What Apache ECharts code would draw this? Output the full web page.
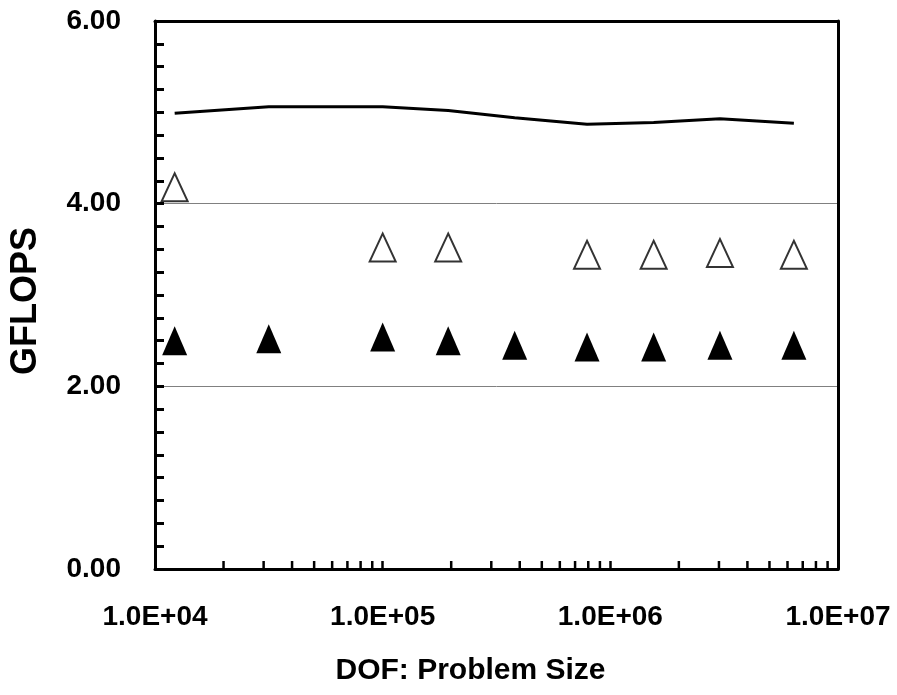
<!DOCTYPE html>
<html>
<head>
<meta charset="utf-8">
<script src="https://cdn.jsdelivr.net/npm/echarts@6/dist/echarts.min.js"></script>
<style>
  html, body { margin: 0; padding: 0; background: #fff; }
  #chart { width: 897px; height: 695px; }
</style>
</head>
<body>
<div id="chart"></div>
<script>
// problem sizes (DOF) and measured rates
const dofLine = [12200, 31600, 100000, 194000, 380000, 790000, 1550000, 3030000, 6400000];
const gflopsLine = [4.99, 5.06, 5.06, 5.02, 4.94, 4.87, 4.89, 4.93, 4.88];
const dofFilled = [12200, 31600, 100000, 194000, 380000, 790000, 1550000, 3030000, 6400000];
const gflopsFilled = [2.50, 2.52, 2.54, 2.50, 2.45, 2.43, 2.43, 2.45, 2.45];
const dofOpen = [12200, 100000, 194000, 790000, 1550000, 3030000, 6400000];
const gflopsOpen = [4.18, 3.52, 3.52, 3.44, 3.44, 3.46, 3.44];

// axis ticks
const xDecades = [1e4, 1e5, 1e6, 1e7];
const xTickLabels = ['1.0E+04', '1.0E+05', '1.0E+06', '1.0E+07'];
const xMinorSteps = [2, 3, 4, 5, 6, 7, 8, 9];
const yTickLabels = ['0.00', '2.00', '4.00', '6.00'];

const FONT = "'Liberation Sans', Arial, sans-serif";

// minor tick positions of the log axis: 2..9 in each decade
let xMinorTicks = [];
xDecades.slice(0, -1).forEach(d => {
    xMinorSteps.forEach(m => xMinorTicks.push([d * m, 0]));
});

const zip = (xs, ys) => xs.map((x, i) => [x, ys[i]]);

const chart = echarts.init(document.getElementById('chart'), null, { renderer: 'canvas' });

const option = {
    animation: false,
    backgroundColor: '#fff',
    grid: { left: 154, right: 59, top: 21, bottom: 126, containLabel: false },
    xAxis: [{
        type: 'log',
        logBase: 10,
        min: 1e4,
        max: 1e7,
        z: 10,
        axisLine: { lineStyle: { color: '#000', width: 3 } },
        axisTick: { inside: true, length: 8, lineStyle: { color: '#000', width: 2.5 } },
        axisLabel: {
            margin: 34,
            color: '#000',
            fontFamily: FONT,
            fontWeight: 'bold',
            fontSize: 28,
            formatter: v => {
                const i = xDecades.findIndex(d => Math.abs(d - v) / d < 1e-6);
                return i >= 0 ? xTickLabels[i] : '';
            }
        },
        splitLine: { show: false },
        name: 'DOF: Problem Size',
        nameLocation: 'middle',
        nameGap: 87,
        nameTextStyle: {
            color: '#000', fontFamily: FONT, fontWeight: 'bold', fontSize: 30,
            padding: [0, 52, 0, 0]
        }
    }, {
        type: 'value',
        position: 'top',
        z: 10,
        axisLine: { onZero: false, lineStyle: { color: '#000', width: 3 } },
        axisTick: { show: false },
        axisLabel: { show: false },
        splitLine: { show: false }
    }],
    yAxis: [{
        type: 'value',
        min: 0,
        max: 6,
        interval: 2,
        z: 5,
        axisLine: { lineStyle: { color: '#000', width: 3 } },
        axisTick: { inside: true, length: 9, lineStyle: { color: '#000', width: 3 } },
        minorTick: { show: true, splitNumber: 8, length: 9, lineStyle: { color: '#000', width: 3 } },
        axisLabel: {
            margin: 34,
            color: '#000',
            fontFamily: FONT,
            fontWeight: 'bold',
            fontSize: 28,
            formatter: v => yTickLabels[Math.round(v / 2)]
        },
        splitLine: { show: true, lineStyle: { color: '#808080', width: 1 } },
        name: 'GFLOPS',
        nameLocation: 'middle',
        nameGap: 111,
        nameTextStyle: {
            color: '#000', fontFamily: FONT, fontWeight: 'bold', fontSize: 36,
            padding: [0, 12, 0, 0]
        }
    }, {
        type: 'value',
        position: 'right',
        min: 0,
        max: 6,
        z: 10,
        axisLine: { show: true, onZero: false, lineStyle: { color: '#000', width: 3 } },
        axisTick: { show: false },
        axisLabel: { show: false },
        splitLine: { show: false }
    }],
    series: [{
        name: 'line',
        type: 'line',
        data: zip(dofLine, gflopsLine),
        showSymbol: false,
        symbol: 'none',
        lineStyle: { color: '#000', width: 3 },
        z: 3
    }, {
        name: 'open',
        type: 'scatter',
        data: zip(dofOpen, gflopsOpen),
        symbol: 'triangle',
        symbolSize: [26, 28],
        itemStyle: { color: '#fff', borderColor: '#000', borderWidth: 2 },
        z: 4
    }, {
        name: 'filled',
        type: 'scatter',
        data: zip(dofFilled, gflopsFilled),
        symbol: 'triangle',
        symbolSize: [25, 29],
        itemStyle: { color: '#000', opacity: 1 },
        z: 4
    }, {
        name: 'xMinorTicks',
        type: 'custom',
        silent: true,
        clip: false,
        z: 10,
        data: xMinorTicks,
        renderItem: (params, api) => {
            const p = api.coord([api.value(0), api.value(1)]);
            return {
                type: 'line',
                shape: { x1: p[0], y1: p[1], x2: p[0], y2: p[1] - 8 },
                style: { stroke: '#000', lineWidth: 2.5 }
            };
        }
    }]
};

chart.setOption(option);
</script>
</body>
</html>
